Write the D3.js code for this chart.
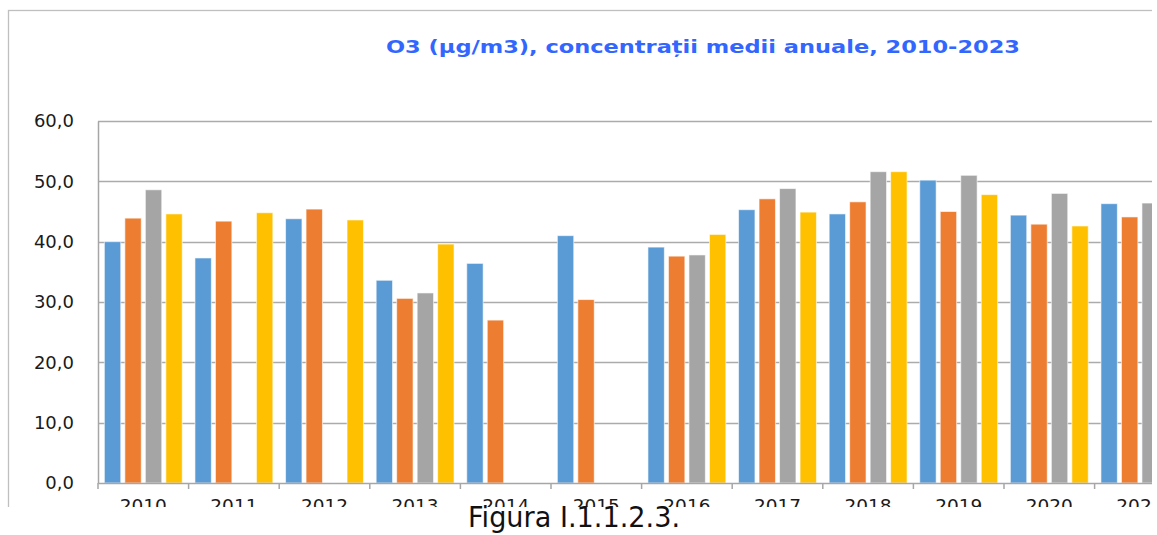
<!DOCTYPE html>
<html>
<head>
<meta charset="utf-8">
<script src="https://cdn.jsdelivr.net/npm/d3@7"></script>
<style>
  html, body { margin: 0; padding: 0; background: #fff; }
  svg { display: block; }
</style>
</head>
<body>
<svg id="chart" width="1157" height="535"></svg>
<script>
// ---- data ----
const categories = ["2010","2011","2012","2013","2014","2015","2016","2017","2018","2019","2020","2021","2022","2023"];
const seriesNames = ["Seria 1", "Seria 2", "Seria 3", "Seria 4"];
const seriesColors = ["#5B9BD5", "#ED7D31", "#A5A5A5", "#FFC000"];
const series1 = [40.0, 37.3, 43.8, 33.6, 36.4, 41.0, 39.1, 45.3, 44.6, 50.2, 44.4, 46.3, null, null];
const series2 = [43.9, 43.4, 45.4, 30.6, 27.0, 30.4, 37.6, 47.1, 46.6, 45.0, 42.9, 44.1, null, null];
const series3 = [48.6, null, null, 31.5, null, null, 37.8, 48.8, 51.6, 51.0, 48.0, 46.4, null, null];
const series4 = [44.6, 44.8, 43.6, 39.6, null, null, 41.2, 44.9, 51.6, 47.8, 42.6, null, null, null];
const yTicks = [0, 10, 20, 30, 40, 50, 60];
const titleText = "O3 (μg/m3), concentrații medii anuale, 2010-2023";
const captionText = "Figura I.1.1.2.3.";

const allSeries = [series1, series2, series3, series4];

// ---- layout ----
const svg = d3.select("#chart");
const plotLeft = 98, plotTop = 121, plotBottom = 483;
const catWidth = 90.6;
const visibleRight = 1152, visibleBottom = 507;

const x = d3.scaleBand()
  .domain(categories)
  .range([plotLeft, plotLeft + catWidth * categories.length])
  .paddingInner(0).paddingOuter(0);

const xInner = d3.scaleBand()
  .domain(d3.range(seriesNames.length))
  .range([0, x.bandwidth()])
  .paddingInner(0.2)
  .paddingOuter(0.31);

const y = d3.scaleLinear().domain([0, 60]).range([plotBottom, plotTop]);

const defs = svg.append("defs");
defs.append("clipPath").attr("id", "vis")
  .append("rect").attr("x", 0).attr("y", 0).attr("width", visibleRight).attr("height", visibleBottom);

const root = svg.append("g").attr("clip-path", "url(#vis)");

// chart frame
root.append("rect")
  .attr("x", 8.5).attr("y", 10.5)
  .attr("width", 2000).attr("height", 1000)
  .attr("fill", "#fff").attr("stroke", "#bfbfbf").attr("stroke-width", 1.3);

// title
root.append("text")
  .attr("x", 703).attr("y", 53)
  .attr("text-anchor", "middle")
  .attr("font-family", "DejaVu Sans, Verdana, sans-serif")
  .attr("font-weight", "bold")
  .attr("font-size", 17.5)
  .attr("textLength", 634)
  .attr("lengthAdjust", "spacingAndGlyphs")
  .attr("fill", "#3366ff")
  .text(titleText);

// gridlines
root.append("g")
  .selectAll("line").data(yTicks.filter(d => d > 0)).join("line")
  .attr("x1", plotLeft).attr("x2", x.range()[1])
  .attr("y1", d => Math.round(y(d)) + 0.5).attr("y2", d => Math.round(y(d)) + 0.5)
  .attr("stroke", "#ababab").attr("stroke-width", 1.5);

// y axis
const yAxis = d3.axisLeft(y).tickValues(yTicks).tickSize(0).tickPadding(24)
  .tickFormat(d => d3.format(".1f")(d).replace(".", ","));
const gy = root.append("g").attr("transform", `translate(${plotLeft},0)`).call(yAxis);
gy.select(".domain").attr("stroke", "#a6a6a6").attr("stroke-width", 1.5);
gy.selectAll("text")
  .attr("font-family", "DejaVu Sans, Verdana, sans-serif")
  .attr("font-size", 18)
  .attr("fill", "#1a1a1a");

// bars
const barData = [];
categories.forEach((c, i) => {
  allSeries.forEach((s, k) => {
    if (s[i] != null) barData.push({ cat: c, k, v: s[i] });
  });
});
root.append("g")
  .selectAll("rect").data(barData).join("rect")
  .attr("x", d => x(d.cat) + xInner(d.k))
  .attr("width", xInner.bandwidth())
  .attr("y", d => y(d.v))
  .attr("height", d => y(0) - y(d.v))
  .attr("fill", d => seriesColors[d.k])
  .attr("stroke", "#ffffff")
  .attr("stroke-opacity", 0.6)
  .attr("stroke-width", 1);

// x axis
const xAxis = d3.axisBottom(x).tickSize(0).tickPadding(16);
const gx = root.append("g").attr("transform", `translate(0,${plotBottom})`).call(xAxis);
gx.select(".domain").attr("stroke", "#a6a6a6").attr("stroke-width", 1.5);
gx.selectAll("text")
  .attr("font-family", "DejaVu Sans, Verdana, sans-serif")
  .attr("font-size", 18.5)
  .attr("fill", "#1a1a1a");
// category boundary ticks
root.append("g")
  .selectAll("line").data(categories.concat(["end"])).join("line")
  .attr("x1", (d, i) => plotLeft + i * x.step())
  .attr("x2", (d, i) => plotLeft + i * x.step())
  .attr("y1", plotBottom).attr("y2", plotBottom + 6)
  .attr("stroke", "#a6a6a6").attr("stroke-width", 1.5);

// caption
svg.append("text")
  .attr("x", 574).attr("y", 527)
  .attr("text-anchor", "middle")
  .attr("font-family", "DejaVu Sans, Tahoma, sans-serif")
  .attr("font-size", 29)
  .attr("textLength", 212)
  .attr("lengthAdjust", "spacingAndGlyphs")
  .attr("fill", "#111")
  .text(captionText);
</script>
</body>
</html>
